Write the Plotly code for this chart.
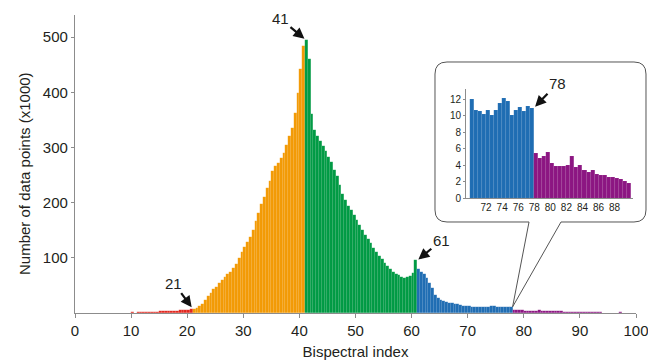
import numpy as np
import plotly.graph_objects as go

# ---------------- data (0.5-unit bins, values in thousands) ----------------
BIN = 0.5
red_start, orange_start, green_start, blue_start, purple_start = 10.0, 21.0, 41.0, 61.0, 78.0

red_vals = [1.5, 0.0, 1.8, 1.2, 2.0, 2.2, 2.3, 2.4, 2.6, 2.7, 2.9, 3.1, 3.3, 3.5, 3.8, 4.0,
            4.3, 4.6, 5.0, 5.4, 6.2, 7.2]
orange_vals = [7.5, 9, 12, 17, 23, 30, 37, 43, 48, 54, 60, 66, 71, 75, 82, 89, 99, 110, 120, 128,
               138, 151, 166, 182, 197, 211, 226, 240, 258, 267, 272, 281, 290, 305, 320, 336,
               362, 399, 442, 484]
green_vals = [494, 461, 360, 331, 321, 311, 302, 293, 283, 274, 260, 248, 232, 215, 205, 194,
              186, 177, 169, 160, 151, 142, 134, 126, 118, 110, 103, 97, 91, 86, 80, 75, 71, 68,
              65, 64, 65, 67, 72, 96]
blue_head = [80, 75, 71, 63, 54, 45, 33, 27, 24, 22, 20.5, 19, 18, 17, 16, 14.5, 13.5, 12.5]
blue_inset = [12.0, 10.6, 10.5, 10.2, 10.6, 10.1, 10.6, 11.5, 12.1, 11.8, 10.1, 10.6, 11.0,
              10.5, 11.2, 10.9]
purple_inset = [5.5, 4.85, 5.1, 5.55, 4.2, 3.9, 3.9, 3.9, 4.0, 5.05, 3.7, 4.0, 3.4, 3.2, 3.35,
                2.9, 2.8, 2.75, 2.6, 2.55, 2.45, 2.35, 2.1, 1.8]
purple_tail = [1.7, 1.6, 1.5, 1.4, 1.3, 1.2, 1.1, 1.0, 0.4, 0.3, 0.3, 0.2, 0.2, 0.2, 1.2, 0.3,
               0.1, 0.1, 0.0, 0.0]

blue_vals = blue_head + blue_inset
purple_vals = purple_inset + purple_tail

x_ticks = [0, 10, 20, 30, 40, 50, 60, 70, 80, 90, 100]
y_ticks = [100, 200, 300, 400, 500]
inset_x_ticks = [72, 74, 76, 78, 80, 82, 84, 86, 88]
inset_y_ticks = [0, 2, 4, 6, 8, 10, 12]

callouts = [("41", 40.9, 497, -24, -20), ("61", 61.2, 97, 23, -19), ("21", 20.8, 10.5, -18, -24)]

# ---------------- styling ----------------
COLORS = {"red": "#E2261E", "orange": "#F29A05", "green": "#009A44",
          "blue": "#1F6DB3", "purple": "#8C1682"}
TXT = "#231F20"
AX = "#8C8C8C"
FONT = "Liberation Sans, Arial, sans-serif"

W, H = 648, 362
L, R, T, B = 75, 12, 15, 49
PW, PH = W - L - R, H - T - B


def centers(start, vals):
    return start + BIN * np.arange(len(vals)) + BIN / 2


def fx(px):
    return (px - L) / PW


def fy(py):
    return (H - B - py) / PH


fig = go.Figure()
line = dict(color="rgba(255,255,255,0.12)", width=0.4)
for name, start, vals in [("red", red_start, red_vals), ("orange", orange_start, orange_vals),
                          ("green", green_start, green_vals), ("blue", blue_start, blue_vals),
                          ("purple", purple_start, purple_vals)]:
    fig.add_trace(go.Bar(x=centers(start, vals), y=vals, width=BIN,
                         marker=dict(color=COLORS[name], line=line),
                         showlegend=False, hoverinfo="x+y"))

# inset
inset_blue_start = purple_start - BIN * len(blue_inset)
fig.add_trace(go.Bar(x=centers(inset_blue_start, blue_inset), y=blue_inset, width=BIN,
                     marker=dict(color=COLORS["blue"], line=line),
                     xaxis="x2", yaxis="y2", showlegend=False))
fig.add_trace(go.Bar(x=centers(purple_start, purple_inset), y=purple_inset, width=BIN,
                     marker=dict(color=COLORS["purple"], line=line),
                     xaxis="x2", yaxis="y2", showlegend=False))

fig.update_layout(
    width=W, height=H, margin=dict(l=L, r=R, t=T, b=B, autoexpand=False),
    paper_bgcolor="white", plot_bgcolor="white", bargap=0, barmode="overlay",
    font=dict(family=FONT, color=TXT, size=15),
    xaxis=dict(range=[0, 100], tickvals=x_ticks, showgrid=False, zeroline=False,
               automargin=False, ticklabeloverflow="allow",
               showline=True, linecolor=AX, linewidth=1.3, ticks="outside", ticklen=4,
               tickcolor=AX, tickfont=dict(size=15),
               title=dict(text="Bispectral index", font=dict(size=15), standoff=8)),
    yaxis=dict(range=[0, 540], tickvals=y_ticks, showgrid=False, zeroline=False,
               automargin=False,
               showline=True, linecolor=AX, linewidth=1.3, ticks="outside", ticklen=3,
               tickcolor=AX, tickfont=dict(size=15)),
    xaxis2=dict(domain=[fx(466), fx(632.7)], range=[69.5, 90.25], anchor="y2",
                automargin=False,
                tickvals=inset_x_ticks, showgrid=False, zeroline=False, showline=True,
                linecolor=AX, linewidth=1, ticks="", tickfont=dict(size=10)),
    yaxis2=dict(domain=[fy(198.3), fy(89.3)], range=[0, 13.2], anchor="x2",
                automargin=False,
                tickvals=inset_y_ticks, showgrid=False, zeroline=False, showline=True,
                linecolor=AX, linewidth=1, ticks="outside", ticklen=2, tickcolor=AX,
                tickfont=dict(size=10)),
)

# y-axis title
fig.add_annotation(text="Number of data points (x1000)", textangle=-90, xref="paper",
                   yref="paper", x=fx(24), y=fy(174), showarrow=False,
                   font=dict(size=15, color=TXT), xanchor="center", yanchor="middle")

for label, x, y, ax, ay in callouts:
    fig.add_annotation(text=label, x=x, y=y, xref="x", yref="y", ax=ax, ay=ay,
                       showarrow=True, arrowhead=2, arrowsize=1, arrowwidth=2.2,
                       arrowcolor="#111111", standoff=0, font=dict(size=15, color=TXT))
fig.add_annotation(text="78", x=78.1, y=11.1, xref="x2", yref="y2", ax=22, ay=-23,
                   showarrow=True, arrowhead=2, arrowsize=1, arrowwidth=2.2,
                   arrowcolor="#111111", standoff=0, font=dict(size=15, color=TXT))

# callout box with tail pointing at bin 78 on the main axis
bl, br, bt, bb, r = 435, 646, 62, 222, 12
tip_x, tip_y = purple_start / 100, 11 / 540
pts = [
    f"M {fx(529):.4f},{fy(bb):.4f}",
    f"L {tip_x:.4f},{tip_y:.4f}",
    f"L {fx(561):.4f},{fy(bb):.4f}",
    f"L {fx(br - r):.4f},{fy(bb):.4f}",
    f"Q {fx(br):.4f},{fy(bb):.4f} {fx(br):.4f},{fy(bb - r):.4f}",
    f"L {fx(br):.4f},{fy(bt + r):.4f}",
    f"Q {fx(br):.4f},{fy(bt):.4f} {fx(br - r):.4f},{fy(bt):.4f}",
    f"L {fx(bl + r):.4f},{fy(bt):.4f}",
    f"Q {fx(bl):.4f},{fy(bt):.4f} {fx(bl):.4f},{fy(bt + r):.4f}",
    f"L {fx(bl):.4f},{fy(bb - r):.4f}",
    f"Q {fx(bl):.4f},{fy(bb):.4f} {fx(bl + r):.4f},{fy(bb):.4f}",
    "Z",
]
fig.add_shape(type="path", path=" ".join(pts), xref="paper", yref="paper",
              line=dict(color="#555555", width=1), fillcolor="rgba(0,0,0,0)", layer="above")

fig.write_html("out.html", config={"displayModeBar": False},
               post_script="document.body.style.margin='0';document.body.style.overflow='hidden';")
